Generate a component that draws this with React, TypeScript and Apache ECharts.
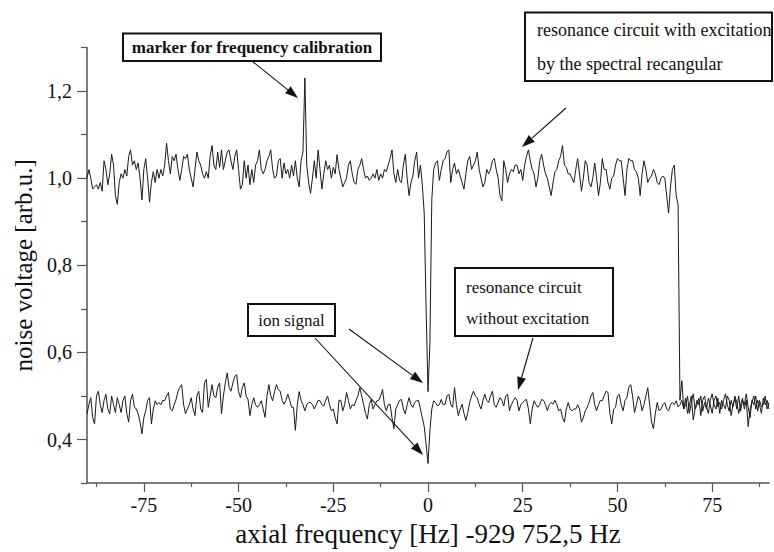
import React, { useEffect, useRef } from "react";
import * as echarts from "echarts";

// Frequency grid (Hz, relative to 929 752,5 Hz)
const FREQ_START = -90;
const FREQ_STEP = 0.5;

// noise voltage with excitation by the spectral rectangular (arb.u.)
const upperTrace = [
  1.00, 1.02, 1.00, 0.975, 0.98, 0.985, 0.975, 0.99, 0.97, 1.04,
  1.02, 0.985, 1.01, 1.055, 1.03, 0.96, 0.94, 0.99, 1.01, 1.00,
  1.02, 1.005, 1.05, 1.065, 1.03, 1.04, 1.02, 1.035, 1.00, 0.95,
  1.02, 1.045, 1.00, 0.945, 0.99, 1.015, 0.99, 1.02, 1.00, 1.02,
  1.005, 1.03, 1.08, 1.04, 1.01, 1.05, 1.04, 1.055, 1.02, 0.995,
  1.02, 1.05, 1.045, 1.055, 1.02, 1.00, 0.98, 1.02, 1.06, 1.04,
  1.03, 1.01, 1.00, 1.015, 1.00, 1.05, 1.075, 1.03, 1.02, 1.06,
  1.025, 1.065, 1.02, 1.04, 1.06, 1.065, 1.04, 1.02, 1.05, 1.065,
  1.02, 0.975, 0.985, 1.04, 1.00, 1.03, 0.985, 1.02, 0.99, 1.03,
  1.04, 1.065, 1.02, 1.01, 1.02, 1.04, 1.05, 1.065, 1.02, 1.00,
  1.005, 1.04, 1.045, 1.00, 1.035, 1.01, 1.02, 1.00, 1.03, 1.005,
  1.04, 1.00, 0.98, 1.04, 1.06, 1.23, 1.03, 0.99, 0.965, 1.00,
  1.04, 1.00, 1.065, 1.02, 0.975, 1.01, 1.04, 1.02, 1.03, 1.00,
  1.025, 1.01, 1.054, 1.02, 1.00, 0.98, 0.99, 1.00, 1.03, 1.04,
  1.01, 0.99, 0.986, 1.02, 1.03, 1.045, 1.02, 1.00, 1.005, 0.995,
  1.00, 1.01, 1.00, 1.02, 0.995, 1.01, 1.00, 1.02, 1.015, 1.03,
  1.045, 1.065, 1.01, 0.99, 1.02, 0.995, 0.99, 1.03, 1.055, 1.00,
  0.96, 0.99, 1.005, 1.04, 1.06, 1.00, 1.03, 0.985, 0.92, 0.70,
  0.51, 0.62, 0.95, 1.02, 1.035, 1.04, 0.995, 1.02, 1.04, 1.045,
  1.06, 1.065, 0.99, 1.02, 1.035, 1.01, 1.02, 1.005, 0.99, 0.975,
  1.01, 1.04, 1.05, 1.02, 1.03, 1.04, 1.06, 1.02, 1.00, 0.98,
  0.99, 1.02, 1.01, 1.02, 1.04, 1.045, 1.02, 1.00, 0.96, 0.948,
  1.04, 1.02, 0.99, 1.01, 1.02, 1.015, 1.03, 1.03, 1.01, 1.02,
  0.995, 1.03, 1.05, 1.065, 1.04, 1.02, 1.01, 0.98, 1.00, 1.04,
  1.055, 1.03, 1.01, 1.00, 0.98, 0.96, 0.99, 1.015, 1.02, 1.04,
  1.05, 1.075, 1.03, 1.025, 1.01, 1.01, 1.00, 0.99, 1.02, 1.045,
  1.01, 0.97, 1.00, 1.04, 1.03, 0.99, 0.98, 1.00, 1.035, 1.00,
  0.96, 0.99, 1.045, 1.02, 1.02, 0.99, 0.975, 1.00, 1.005, 1.03,
  1.045, 1.04, 1.04, 1.00, 0.96, 1.02, 1.045, 1.04, 1.04, 1.02,
  1.015, 1.00, 0.96, 1.01, 1.04, 1.02, 0.99, 1.00, 1.005, 1.02,
  1.01, 0.99, 0.985, 1.00, 1.005, 1.00, 0.96, 0.92, 0.98, 1.02,
  1.03, 0.96, 0.94,
  0.49, 0.535, 0.47, 0.48, 0.50, 0.46, 0.485, 0.505, 0.47, 0.48,
  0.495, 0.455, 0.49, 0.50, 0.475, 0.46, 0.49, 0.505, 0.48, 0.47,
  0.495, 0.46, 0.49, 0.48, 0.47, 0.50, 0.49, 0.455, 0.48, 0.495,
  0.47, 0.50, 0.465, 0.49, 0.48, 0.505, 0.475, 0.45, 0.49, 0.48,
  0.50, 0.465, 0.49, 0.475, 0.48, 0.50, 0.47, 0.485,
];

// noise voltage without excitation (arb.u.)
const lowerTrace = [
  0.459, 0.48, 0.496, 0.45, 0.436, 0.50, 0.511, 0.48, 0.462, 0.49,
  0.504, 0.47, 0.459, 0.50, 0.48, 0.462, 0.496, 0.48, 0.462, 0.49,
  0.50, 0.46, 0.44, 0.49, 0.504, 0.475, 0.47, 0.459, 0.44, 0.413,
  0.45, 0.466, 0.49, 0.496, 0.436, 0.47, 0.489, 0.48, 0.485, 0.48,
  0.49, 0.489, 0.50, 0.508, 0.47, 0.466, 0.48, 0.492, 0.51, 0.52,
  0.526, 0.48, 0.459, 0.47, 0.48, 0.496, 0.47, 0.455, 0.50, 0.511,
  0.47, 0.462, 0.53, 0.538, 0.474, 0.50, 0.526, 0.50, 0.496, 0.52,
  0.53, 0.459, 0.50, 0.53, 0.553, 0.52, 0.511, 0.53, 0.545, 0.549,
  0.51, 0.496, 0.52, 0.53, 0.50, 0.492, 0.455, 0.48, 0.496, 0.48,
  0.474, 0.48, 0.489, 0.47, 0.451, 0.50, 0.526, 0.50, 0.489, 0.51,
  0.526, 0.515, 0.511, 0.49, 0.481, 0.49, 0.504, 0.49, 0.474, 0.474,
  0.421, 0.48, 0.51, 0.49, 0.48, 0.466, 0.48, 0.485, 0.485, 0.48,
  0.47, 0.48, 0.49, 0.489, 0.48, 0.477, 0.49, 0.50, 0.48, 0.466,
  0.47, 0.45, 0.436, 0.49, 0.49, 0.466, 0.48, 0.508, 0.49, 0.47,
  0.48, 0.477, 0.49, 0.50, 0.519, 0.50, 0.481, 0.46, 0.447, 0.48,
  0.492, 0.47, 0.48, 0.489, 0.49, 0.50, 0.515, 0.48, 0.466, 0.48,
  0.481, 0.45, 0.425, 0.47, 0.481, 0.49, 0.492, 0.47, 0.459, 0.48,
  0.496, 0.48, 0.474, 0.485, 0.489, 0.49, 0.47, 0.45, 0.43, 0.39,
  0.345, 0.42, 0.47, 0.489, 0.485, 0.477, 0.48, 0.492, 0.48, 0.481,
  0.50, 0.504, 0.48, 0.474, 0.519, 0.48, 0.455, 0.47, 0.481, 0.46,
  0.444, 0.462, 0.485, 0.50, 0.511, 0.50, 0.496, 0.48, 0.47, 0.49,
  0.504, 0.49, 0.485, 0.50, 0.511, 0.48, 0.474, 0.485, 0.496, 0.49,
  0.477, 0.50, 0.504, 0.466, 0.48, 0.489, 0.496, 0.49, 0.466, 0.48,
  0.485, 0.49, 0.492, 0.47, 0.436, 0.47, 0.489, 0.48, 0.474, 0.48,
  0.492, 0.49, 0.48, 0.466, 0.48, 0.485, 0.481, 0.49, 0.48, 0.466,
  0.47, 0.45, 0.44, 0.47, 0.485, 0.47, 0.466, 0.47, 0.47, 0.48,
  0.47, 0.44, 0.45, 0.466, 0.474, 0.485, 0.50, 0.508, 0.48, 0.466,
  0.48, 0.49, 0.489, 0.50, 0.511, 0.508, 0.46, 0.436, 0.47, 0.474,
  0.50, 0.504, 0.48, 0.466, 0.49, 0.496, 0.52, 0.526, 0.50, 0.462,
  0.48, 0.50, 0.49, 0.466, 0.48, 0.50, 0.519, 0.48, 0.44, 0.425,
  0.46, 0.485, 0.466, 0.47, 0.48, 0.485, 0.47, 0.466, 0.48, 0.485,
  0.48, 0.489, 0.475,
  0.48, 0.49, 0.47, 0.495, 0.46, 0.48, 0.50, 0.445, 0.47, 0.49,
  0.48, 0.50, 0.465, 0.485, 0.47, 0.495, 0.48, 0.46, 0.49, 0.50,
  0.475, 0.485, 0.47, 0.49, 0.505, 0.48, 0.465, 0.49, 0.475, 0.50,
  0.485, 0.46, 0.48, 0.495, 0.47, 0.49, 0.43, 0.47, 0.485, 0.50,
  0.47, 0.49, 0.48, 0.46, 0.495, 0.48, 0.49, 0.47,
];

const xMajorTicks = [-75, -50, -25, 0, 25, 50, 75];
const xMinorTicks = [-87.5, -62.5, -37.5, -12.5, 12.5, 37.5, 62.5, 87.5];
const yMajorTicks = [0.4, 0.6, 0.8, 1.0, 1.2];
const yMinorTicks = [0.3, 0.5, 0.7, 0.9, 1.1, 1.3];

const FONT = "'Liberation Serif', 'Times New Roman', serif";
const AXIS_COLOR = "#555";
const TEXT_COLOR = "#111";

function toPairs(values: number[]) {
  return values.map((v, i) => [FREQ_START + i * FREQ_STEP, v]);
}

function arrow(x1: number, y1: number, x2: number, y2: number) {
  const dx = x2 - x1;
  const dy = y2 - y1;
  const len = Math.sqrt(dx * dx + dy * dy);
  const ux = dx / len;
  const uy = dy / len;
  const hl = 13;
  const hw = 4.5;
  const bx = x2 - ux * hl;
  const by = y2 - uy * hl;
  return [
    {
      type: "line",
      shape: { x1, y1, x2: bx, y2: by },
      style: { stroke: "#111", lineWidth: 1.1 },
      silent: true,
    },
    {
      type: "polygon",
      shape: {
        points: [
          [x2, y2],
          [bx - uy * hw, by + ux * hw],
          [bx + uy * hw, by - ux * hw],
        ],
      },
      style: { fill: "#111" },
      silent: true,
    },
  ];
}

function box(x: number, y: number, w: number, h: number) {
  return {
    type: "rect",
    shape: { x, y, width: w, height: h },
    style: { fill: "#fff", stroke: "#111", lineWidth: 2 },
    silent: true,
  };
}

function label(text: string, x: number, y: number, size: number, bold = false, align = "left") {
  return {
    type: "text",
    x,
    y,
    style: {
      text,
      fill: TEXT_COLOR,
      font: `${bold ? "bold " : ""}${size}px ${FONT}`,
      textAlign: align,
      textVerticalAlign: "middle",
    },
    silent: true,
  };
}

export default function App() {
  const ref = useRef<HTMLDivElement>(null);

  useEffect(() => {
    if (!ref.current) return;
    const chart = echarts.init(ref.current, null, { renderer: "svg" });
    const fmt = (v: number) => v.toFixed(1).replace(".", ",");
    const axisLine = { show: true, onZero: false, lineStyle: { color: AXIS_COLOR, width: 1.5 } };

    const option: any = {
      animation: false,
      backgroundColor: "#fff",
      grid: { left: 87, right: 5, top: 47.5, bottom: 62, containLabel: false },
      xAxis: [
        {
          type: "value",
          min: -90,
          max: 90,
          position: "bottom",
          axisLine,
          axisTick: {
            show: true,
            customValues: xMajorTicks,
            length: 9,
            lineStyle: { color: AXIS_COLOR, width: 1.2 },
          },
          axisLabel: {
            customValues: xMajorTicks,
            color: TEXT_COLOR,
            fontFamily: FONT,
            fontSize: 20,
            margin: 12,
          },
          splitLine: { show: false },
          name: "axial frequency [Hz] -929 752,5 Hz",
          nameLocation: "middle",
          nameGap: 36,
          nameTextStyle: { color: TEXT_COLOR, fontFamily: FONT, fontSize: 27 },
        },
        {
          type: "value",
          min: -90,
          max: 90,
          position: "bottom",
          axisLine: { show: false, onZero: false },
          axisTick: {
            show: true,
            customValues: xMinorTicks,
            length: 4,
            lineStyle: { color: AXIS_COLOR, width: 1.2 },
          },
          axisLabel: { show: false },
          splitLine: { show: false },
        },
      ],
      yAxis: [
        {
          type: "value",
          min: 0.3,
          max: 1.3,
          position: "left",
          axisLine,
          axisTick: {
            show: true,
            customValues: yMajorTicks,
            length: 10,
            lineStyle: { color: AXIS_COLOR, width: 1.2 },
          },
          axisLabel: {
            customValues: yMajorTicks,
            formatter: fmt,
            color: TEXT_COLOR,
            fontFamily: FONT,
            fontSize: 20,
            margin: 15,
          },
          splitLine: { show: false },
          name: "noise voltage [arb.u.]",
          nameLocation: "middle",
          nameGap: 45,
          nameTextStyle: { color: TEXT_COLOR, fontFamily: FONT, fontSize: 25 },
        },
        {
          type: "value",
          min: 0.3,
          max: 1.3,
          position: "left",
          axisLine: { show: false, onZero: false },
          axisTick: {
            show: true,
            customValues: yMinorTicks,
            length: 6,
            lineStyle: { color: AXIS_COLOR, width: 1.2 },
          },
          axisLabel: { show: false },
          splitLine: { show: false },
        },
      ],
      series: [
        {
          name: "without excitation",
          type: "line",
          xAxisIndex: 0,
          yAxisIndex: 0,
          data: toPairs(lowerTrace),
          showSymbol: false,
          lineStyle: { color: "#1a1a1a", width: 1 },
          z: 2,
        },
        {
          name: "with excitation",
          type: "line",
          xAxisIndex: 0,
          yAxisIndex: 0,
          data: toPairs(upperTrace),
          showSymbol: false,
          lineStyle: { color: "#1a1a1a", width: 1 },
          z: 3,
        },
      ],
      graphic: [
        box(123, 33.5, 258, 27.5),
        label("marker for frequency calibration", 252, 47.5, 17, true, "center"),
        ...arrow(252, 61, 298, 98),

        box(525, 12.5, 247, 68.5),
        label("resonance circuit with excitation", 537, 30, 18),
        label("by the spectral recangular", 537, 64, 18),
        ...arrow(566, 108, 522, 147),

        box(248, 304, 87, 32),
        label("ion signal", 291.5, 320, 17, false, "center"),
        ...arrow(349, 329, 423, 383),
        ...arrow(315, 338, 423, 455),

        box(455, 268, 158, 68),
        label("resonance circuit", 466, 287, 17),
        label("without excitation", 466, 318, 17),
        ...arrow(533, 338, 518, 390),
      ],
    };

    chart.setOption(option);
    return () => chart.dispose();
  }, []);

  return (
    <div
      ref={ref}
      style={{ position: "absolute", left: 0, top: 0, width: 774, height: 552 }}
    />
  );
}
